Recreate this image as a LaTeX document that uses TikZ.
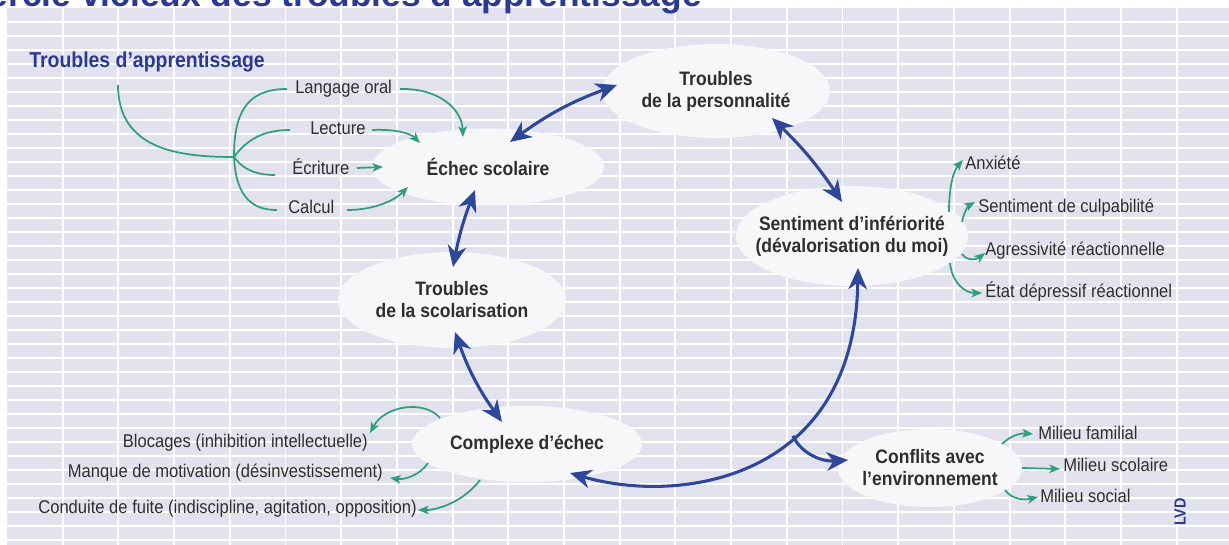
\documentclass[tikz,border=0pt]{standalone}
\usepackage{fontspec}
\setmainfont{Liberation Sans}[FakeStretch=0.9]
\newfontfamily\titlefont{Liberation Sans}
\usetikzlibrary{arrows.meta,shapes.geometric}
\definecolor{panel}{HTML}{E2E2EE}
\definecolor{ellfill}{HTML}{F7F7FA}
\definecolor{arrblue}{HTML}{2E4799}
\definecolor{arrgreen}{HTML}{2E9E7C}
\definecolor{titleblue}{HTML}{2B3990}
\definecolor{txt}{HTML}{2E2E2E}
\tikzset{
  ell/.style={ellipse, fill=ellfill, draw=none, inner xsep=-40pt, inner ysep=-20pt, align=center, text=txt, font=\fontsize{14.6}{16.5}\selectfont\bfseries},
  lbl/.style={inner sep=0pt, text=txt, font=\fontsize{13.8}{16}\selectfont},
  bluearr/.style={draw=arrblue, line width=2.3pt, {Stealth[length=16pt,width=14pt,inset=5pt]}-{Stealth[length=16pt,width=14pt,inset=5pt]}},
  bluearrone/.style={draw=arrblue, line width=2.3pt, -{Stealth[length=16pt,width=14pt,inset=5pt]}},
  greenline/.style={draw=arrgreen, line width=1.3pt},
  greenarr/.style={draw=arrgreen, line width=1.3pt, -{Stealth[length=8pt,width=6.5pt,inset=2pt]}},
  gridline/.style={draw=white, line width=1.1pt},
}
\begin{document}
\begin{tikzpicture}[x=0.75pt,y=-0.75pt]
\useasboundingbox (0,0) rectangle (1229,545);
\clip (0,0) rectangle (1229,545);
% background panel and grid
\fill[panel] (7,8) rectangle (1229,545);
\foreach \k in {1,...,38}{\draw[gridline] (7,{8+14*\k}) -- (1229,{8+14*\k});}
\foreach \k in {1,...,21}{\draw[gridline, line width=1.4pt] ({7+55.7*\k},8) -- ({7+55.7*\k},545);}
% title (cut at the top)
\node[anchor=base east, inner sep=0pt, text=titleblue, font=\titlefont\bfseries\fontsize{26.5}{27}\selectfont] (title) at (702,7) {Cercle vicieux des troubles d’apprentissage};
\node[anchor=base west, inner sep=0pt, text=titleblue, font=\fontsize{16.2}{18}\selectfont\bfseries] (heading) at (29,68) {Troubles d’apprentissage};
% ellipses
\node[ell, minimum width=174pt, minimum height=57.75pt] (echec) at (488,167) {Échec scolaire};
\node[ell, minimum width=171pt, minimum height=70.5pt] (perso) at (716,91) {Troubles\\de la personnalité};
\node[ell, minimum width=174pt, minimum height=75pt] (sent) at (852,236) {Sentiment d’infériorité\\(dévalorisation du moi)};
\node[ell, minimum width=171pt, minimum height=72pt] (scol) at (452,300) {Troubles\\de la scolarisation};
\node[ell, minimum width=172.5pt, minimum height=57pt] (complexe) at (527,444) {Complexe d’échec};
\node[ell, minimum width=138pt, minimum height=58.5pt] (conflits) at (930,468) {Conflits avec\\l’environnement};
% labels
\node[lbl, anchor=base west] (lang) at (295,94) {Langage oral};
\node[lbl, anchor=base west] (lect) at (310,135) {Lecture};
\node[lbl, anchor=base west] (ecri) at (292,175) {Écriture};
\node[lbl, anchor=base west] (calc) at (288,214) {Calcul};
\node[lbl, anchor=base east] (bloc) at (368,448) {Blocages (inhibition intellectuelle)};
\node[lbl, anchor=base east] (manq) at (383,477) {Manque de motivation (désinvestissement)};
\node[lbl, anchor=base east] (cond) at (417,513) {Conduite de fuite (indiscipline, agitation, opposition)};
\node[lbl, anchor=base west] (anx) at (965,170) {Anxiété};
\node[lbl, anchor=base west] (culp) at (978,213) {Sentiment de culpabilité};
\node[lbl, anchor=base west] (agr) at (985,256) {Agressivité réactionnelle};
\node[lbl, anchor=base west] (dep) at (985,298) {État dépressif réactionnel};
\node[lbl, anchor=base west] (fam) at (1038,440) {Milieu familial};
\node[lbl, anchor=base west] (scolm) at (1063,471) {Milieu scolaire};
\node[lbl, anchor=base west] (soc) at (1040,503) {Milieu social};
\node[rotate=90, inner sep=0pt, text=titleblue, font=\fontsize{12}{12}\selectfont\bfseries] (lvd) at (1180,512) {LVD};
% connector end points
\coordinate (e1) at (510,142); \coordinate (p1) at (617,85);
\coordinate (p2) at (772,118); \coordinate (s1) at (842,202);
\coordinate (e2) at (475,190); \coordinate (t1) at (453,267);
\coordinate (t2) at (455,332); \coordinate (c1) at (502,422);
\coordinate (c2) at (570,473); \coordinate (s2) at (858,268);
\coordinate (f1) at (848,460);
\coordinate (root) at (118,85); \coordinate (jn) at (234,157);
\coordinate (ga) at (287,89); \coordinate (gb) at (290,130);
\coordinate (gc) at (275,175); \coordinate (gd) at (277,210);
\coordinate (la) at (400,89); \coordinate (lat) at (463,137);
\coordinate (lb) at (372,130); \coordinate (lbt) at (420,143);
\coordinate (lc) at (357,168); \coordinate (lct) at (383,167);
\coordinate (ld) at (347,210); \coordinate (ldt) at (408,187);
\coordinate (cb) at (440,418); \coordinate (cbt) at (370,433);
\coordinate (cm) at (428,463); \coordinate (cmt) at (390,478);
\coordinate (cc) at (480,480); \coordinate (cct) at (418,510);
\coordinate (sa) at (949,212); \coordinate (sat) at (963,160);
\coordinate (sb) at (962,222); \coordinate (sbt) at (975,202);
\coordinate (sc) at (962,254); \coordinate (sct) at (985,253);
\coordinate (sd) at (950,263); \coordinate (sdt) at (982,293);
\coordinate (fa) at (1002,444); \coordinate (fat) at (1033,434);
\coordinate (fb) at (1022,468); \coordinate (fbt) at (1060,469);
\coordinate (fc) at (1005,490); \coordinate (fct) at (1038,497);
% blue connectors
\draw[bluearr] (e1) to[bend left=8] (p1);
\draw[bluearr] (p2) to[bend left=6] (s1);
\draw[bluearr] (e2) to[bend right=5] (t1);
\draw[bluearr] (t2) to[bend right=8] (c1);
\draw[bluearr] (c2) .. controls (680,505) and (855,480) .. (s2) coordinate[pos=0.62] (br);
\draw[bluearrone] (br) .. controls (800,452) and (820,462) .. (f1);
% green tree
\draw[greenline] (root) .. controls (118,150) and (180,157) .. (jn);
\draw[greenline] (jn) .. controls (234,115) and (245,89) .. (ga);
\draw[greenline] (jn) .. controls (250,135) and (270,130) .. (gb);
\draw[greenline] (jn) .. controls (245,172) and (260,175) .. (gc);
\draw[greenline] (jn) .. controls (236,200) and (255,210) .. (gd);
% green arrows
\draw[greenarr] (la) .. controls (440,88) and (462,110) .. (lat);
\draw[greenarr] (lb) .. controls (395,129) and (410,133) .. (lbt);
\draw[greenarr] (lc) -- (lct);
\draw[greenarr] (ld) .. controls (375,210) and (395,200) .. (ldt);
\draw[greenarr] (cb) .. controls (425,400) and (385,405) .. (cbt);
\draw[greenarr] (cm) .. controls (420,475) and (405,480) .. (cmt);
\draw[greenarr] (cc) .. controls (465,500) and (440,510) .. (cct);
\draw[greenarr] (sa) .. controls (949,185) and (954,170) .. (sat);
\draw[greenarr] (sb) .. controls (964,212) and (968,206) .. (sbt);
\draw[greenarr] (sc) .. controls (967,261) and (976,260) .. (sct);
\draw[greenarr] (sd) .. controls (952,283) and (965,293) .. (sdt);
\draw[greenarr] (fa) .. controls (1010,436) and (1020,433) .. (fat);
\draw[greenarr] (fb) -- (fbt);
\draw[greenarr] (fc) .. controls (1012,500) and (1025,500) .. (fct);
\end{tikzpicture}
\end{document}
